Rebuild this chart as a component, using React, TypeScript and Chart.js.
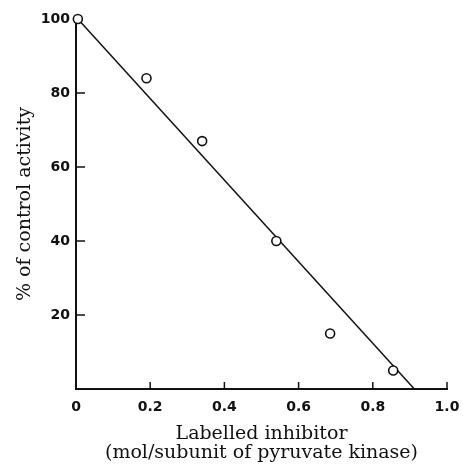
import React, { useEffect, useRef } from 'react';
import { Chart, registerables } from 'chart.js';

Chart.register(...registerables);

// Data
const inhibitorX = [0.005, 0.19, 0.34, 0.54, 0.685, 0.855];
const activityY = [100, 84, 67, 40, 15, 5];
const fitLineX = [0.005, 0.912];
const fitLineY = [100, 0];
const xTickMarks = [0.2, 0.4, 0.6, 0.8, 1.0];
const yTickMarks = [20, 40, 60, 80];
const xTitle = ['Labelled inhibitor', '(mol/subunit of pyruvate kinase)'];
const yTitle = '% of control activity';

const INK = '#111111';

const innerTicks = {
  id: 'innerTicks',
  afterDraw(chart: any) {
    const { ctx, scales } = chart;
    const x = scales.x;
    const y = scales.y;
    ctx.save();
    ctx.strokeStyle = INK;
    ctx.lineWidth = 1.5;
    xTickMarks.forEach((v) => {
      const px = x.getPixelForValue(v);
      ctx.beginPath();
      ctx.moveTo(px, y.bottom);
      ctx.lineTo(px, y.bottom - 7);
      ctx.stroke();
    });
    yTickMarks.forEach((v) => {
      const py = y.getPixelForValue(v);
      ctx.beginPath();
      ctx.moveTo(x.left, py);
      ctx.lineTo(x.left + 9, py);
      ctx.stroke();
    });
    ctx.restore();
  },
};

export default function App() {
  const canvasRef = useRef<HTMLCanvasElement | null>(null);

  useEffect(() => {
    if (!canvasRef.current) return;
    const points = inhibitorX.map((x, i) => ({ x, y: activityY[i] }));
    const fit = fitLineX.map((x, i) => ({ x, y: fitLineY[i] }));
    const tickFont = { family: 'DejaVu Sans', size: 14, weight: 'bold' as const };
    const titleFont = { family: 'DejaVu Serif', size: 19, weight: 'normal' as const };

    const chart = new Chart(canvasRef.current, {
      type: 'scatter',
      data: {
        datasets: [
          {
            label: 'measured',
            data: points,
            showLine: false,
            pointRadius: 4.5,
            pointHoverRadius: 4.5,
            pointStyle: 'circle',
            pointBorderWidth: 1.6,
            borderColor: INK,
            backgroundColor: '#ffffff',
            clip: false as any,
          },
          {
            label: 'fit',
            data: fit,
            showLine: true,
            pointRadius: 0,
            borderColor: INK,
            borderWidth: 1.5,
            fill: false,
            clip: false as any,
          },
        ],
      },
      options: {
        animation: false,
        responsive: false,
        devicePixelRatio: 1,
        layout: { padding: { top: 19, right: 16, left: 0, bottom: 0 } },
        plugins: {
          legend: { display: false },
          tooltip: { enabled: false },
        },
        scales: {
          x: {
            type: 'linear',
            min: 0,
            max: 1.0,
            grid: { display: false, drawTicks: false },
            border: { display: true, color: INK, width: 2 },
            ticks: {
              stepSize: 0.2,
              padding: 10,
              color: INK,
              font: tickFont,
              maxRotation: 0,
              callback: (v: any) => (Number(v) === 0 ? '0' : Number(v).toFixed(1)),
            },
            title: {
              display: true,
              text: xTitle,
              color: INK,
              font: { ...titleFont, lineHeight: 1.0 },
              padding: { top: 0, bottom: 5 },
            },
            afterFit: (scale: any) => {
              scale.height = 79;
              scale.paddingLeft = 0;
              scale.paddingRight = 0;
            },
          },
          y: {
            type: 'linear',
            min: 0,
            max: 100,
            grid: { display: false, drawTicks: false },
            border: { display: true, color: INK, width: 2 },
            ticks: {
              stepSize: 20,
              padding: 6,
              color: INK,
              font: tickFont,
              callback: (v: any) => (Number(v) === 0 ? '' : String(v)),
            },
            title: {
              display: true,
              text: yTitle,
              color: INK,
              font: { ...titleFont, lineHeight: 1.2 },
              padding: { top: 14, bottom: 0 },
            },
            afterFit: (scale: any) => {
              scale.width = 76;
              scale.paddingTop = 0;
              scale.paddingBottom = 0;
            },
          },
        },
      },
      plugins: [innerTicks],
    });
    return () => chart.destroy();
  }, []);

  return (
    <div style={{ position: 'absolute', left: 0, top: 0, width: 463, height: 468, background: '#fff' }}>
      <canvas ref={canvasRef} width={463} height={468} style={{ display: 'block' }} />
    </div>
  );
}
